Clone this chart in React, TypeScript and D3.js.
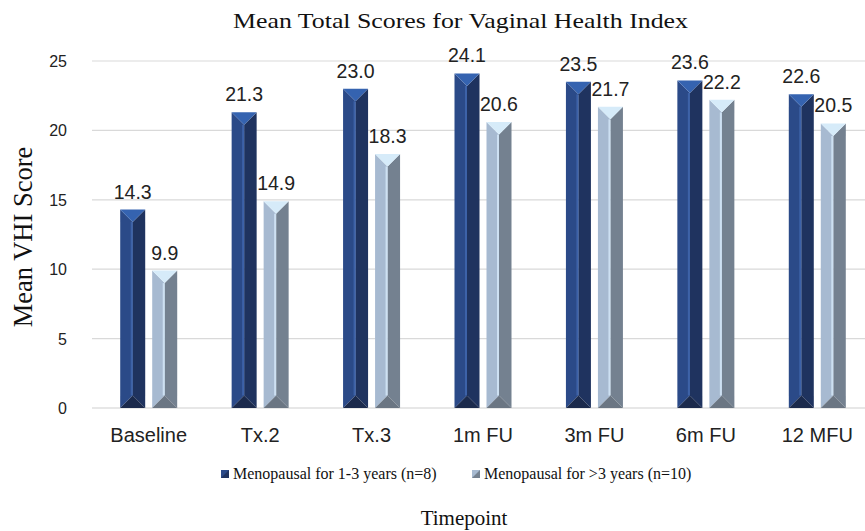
import * as d3 from 'd3';

const categories = ['Baseline', 'Tx.2', 'Tx.3', '1m FU', '3m FU', '6m FU', '12 MFU'];
const seriesNames = ['Menopausal for 1-3 years (n=8)', 'Menopausal for >3 years (n=10)'];
const early = [14.3, 21.3, 23.0, 24.1, 23.5, 23.6, 22.6];
const late = [9.9, 14.9, 18.3, 20.6, 21.7, 22.2, 20.5];
const yTicks = [0, 5, 10, 15, 20, 25];

const W = 865;
const H = 531;

const palettes = [
  { left: '#2b4a88', right: '#1f335f', top: '#3563b0', bottom: '#1b2a4c', strip: '#3d62a8' },
  { left: '#a7bad1', right: '#748190', top: '#d6ebf9', bottom: '#6b7683', strip: '#cde0f2' },
];

function BevelBar({ x, w, y0, y1, pal }: { x: number; w: number; y0: number; y1: number; pal: any }) {
  const cx = x + w / 2;
  const h = Math.min(w / 2, (y1 - y0) / 2);
  const x1 = x + w;
  const pts = (a: number[][]) => a.map((p) => p.join(',')).join(' ');
  return (
    <g>
      <polygon points={pts([[x, y0], [cx, y0 + h], [cx, y1 - h], [x, y1]])} fill={pal.left} />
      <polygon points={pts([[x1, y0], [cx, y0 + h], [cx, y1 - h], [x1, y1]])} fill={pal.right} />
      <rect x={cx - 2} y={y0 + h} width={2} height={Math.max(0, y1 - y0 - 2 * h)} fill={pal.strip} />
      <polygon points={pts([[x, y0], [x1, y0], [cx, y0 + h]])} fill={pal.top} />
      <polygon points={pts([[x, y1], [x1, y1], [cx, y1 - h]])} fill={pal.bottom} />
    </g>
  );
}

export default function App() {
  const x = d3.scaleBand().domain(categories).range([93, 873]);
  const inner = d3.scaleBand().domain(['0', '1']).range([0, 57]).paddingInner(7 / 32).paddingOuter(0);
  const y = d3.scaleLinear().domain([0, 25]).range([408, 61]);
  const groupOffset = (x.bandwidth() - 57) / 2;
  const series = [early, late];

  return (
    <svg width={W} height={H} style={{ position: 'absolute', left: 0, top: 0, background: '#fff' }}>
      <rect width={W} height={H} fill="#fff" />
      <text
        x={233}
        y={28}
        textLength={455}
        lengthAdjust="spacingAndGlyphs"
        fontFamily="Liberation Serif"
        fontSize={22}
        fill="#111"
      >
        Mean Total Scores for Vaginal Health Index
      </text>

      {yTicks.map((t) => (
        <g key={t}>
          <line x1={92} x2={W} y1={y(t)} y2={y(t)} stroke={t === 0 ? '#cfcfcf' : '#d9d9d9'} strokeWidth={1.2} />
          <text x={67} y={y(t) + 6} textAnchor="end" fontFamily="Liberation Sans" fontSize={16} fill="#222">
            {t}
          </text>
        </g>
      ))}

      <text
        transform={`translate(32,${237}) rotate(-90)`}
        textAnchor="middle"
        fontFamily="Liberation Serif"
        fontSize={26.5}
        fill="#111"
      >
        Mean VHI Score
      </text>

      {categories.map((c, i) =>
        series.map((vals, s) => {
          const bx = (x(c) as number) + groupOffset + (inner(String(s)) as number);
          const bw = inner.bandwidth();
          return (
            <g key={c + s}>
              <BevelBar x={bx} w={bw} y0={y(vals[i])} y1={y(0)} pal={palettes[s]} />
              <text
                x={bx + bw / 2}
                y={y(vals[i]) - 11}
                textAnchor="middle"
                fontFamily="Liberation Sans"
                fontSize={19.5}
                fill="#222"
              >
                {vals[i].toFixed(1)}
              </text>
            </g>
          );
        })
      )}

      {categories.map((c) => (
        <text
          key={c}
          x={(x(c) as number) + x.bandwidth() / 2}
          y={442}
          textAnchor="middle"
          fontFamily="Liberation Sans"
          fontSize={20}
          fill="#222"
        >
          {c}
        </text>
      ))}

      {seriesNames.map((n, s) => {
        const lx = s === 0 ? 221 : 472;
        return (
          <g key={n}>
            <rect x={lx} y={470} width={8} height={8} fill={palettes[s].left} />
            <polygon points={`${lx + 8},${470} ${lx + 8},${478} ${lx},${478}`} fill={palettes[s].right} />
            <text x={lx + 12} y={479} fontFamily="Liberation Serif" fontSize={16} fill="#111">
              {n}
            </text>
          </g>
        );
      })}

      <text x={464} y={525} textAnchor="middle" fontFamily="Liberation Serif" fontSize={21} fill="#111">
        Timepoint
      </text>
    </svg>
  );
}
